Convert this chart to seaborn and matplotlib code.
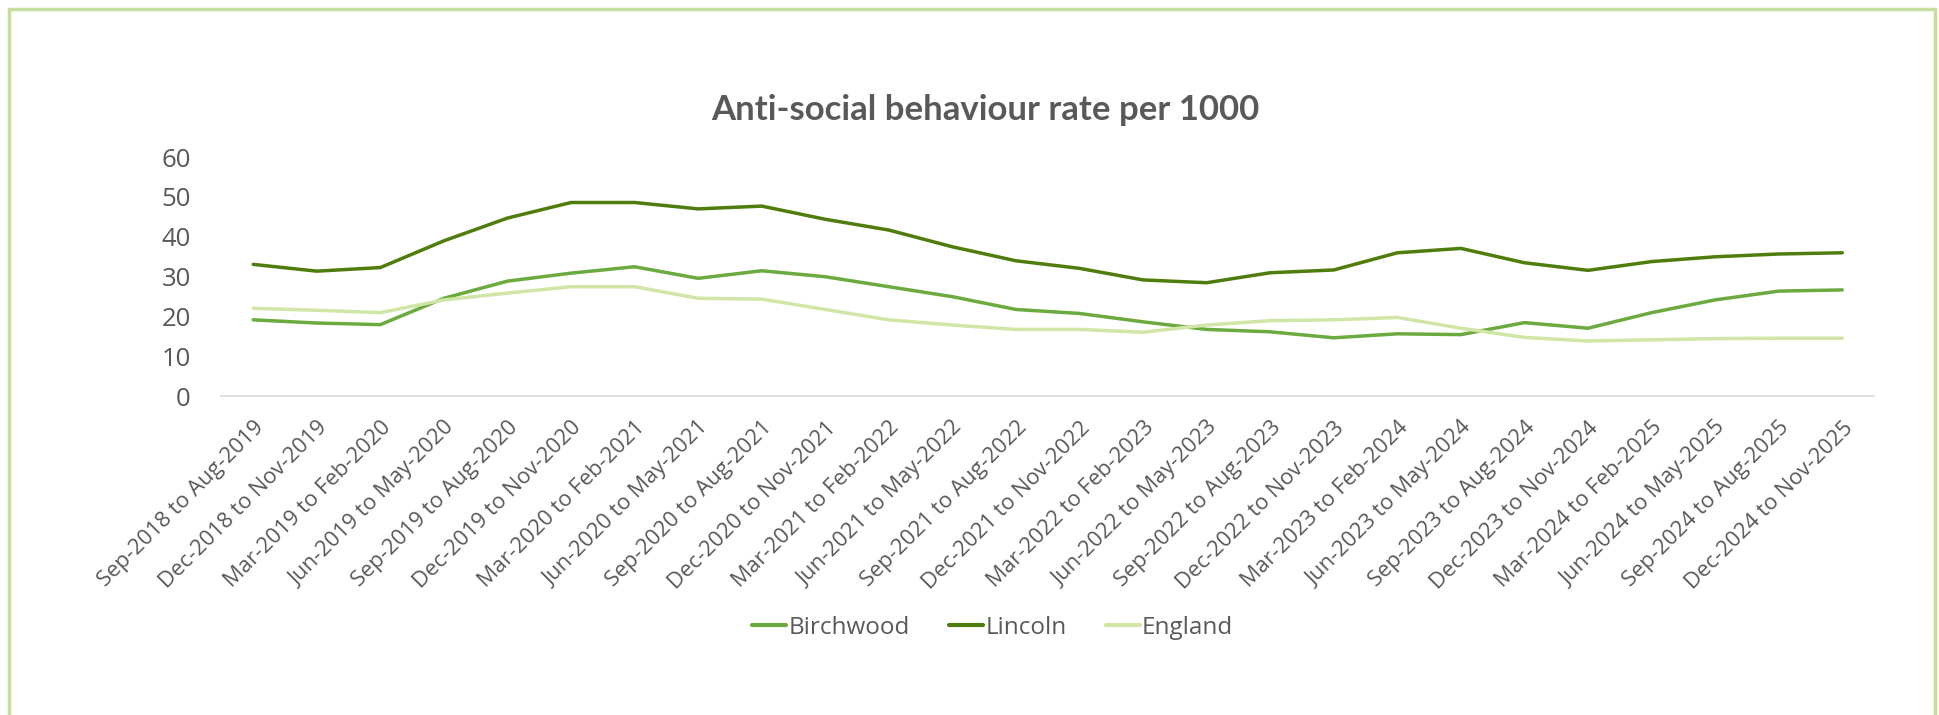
import matplotlib
matplotlib.use("Agg")
import matplotlib.pyplot as plt
from matplotlib.lines import Line2D
import seaborn as sns
import pandas as pd

periods = [
    "Sep-2018 to Aug-2019", "Dec-2018 to Nov-2019", "Mar-2019 to Feb-2020",
    "Jun-2019 to May-2020", "Sep-2019 to Aug-2020", "Dec-2019 to Nov-2020",
    "Mar-2020 to Feb-2021", "Jun-2020 to May-2021", "Sep-2020 to Aug-2021",
    "Dec-2020 to Nov-2021", "Mar-2021 to Feb-2022", "Jun-2021 to May-2022",
    "Sep-2021 to Aug-2022", "Dec-2021 to Nov-2022", "Mar-2022 to Feb-2023",
    "Jun-2022 to May-2023", "Sep-2022 to Aug-2023", "Dec-2022 to Nov-2023",
    "Mar-2023 to Feb-2024", "Jun-2023 to May-2024", "Sep-2023 to Aug-2024",
    "Dec-2023 to Nov-2024", "Mar-2024 to Feb-2025", "Jun-2024 to May-2025",
    "Sep-2024 to Aug-2025", "Dec-2024 to Nov-2025",
]

birchwood = [19.2, 18.4, 18.0, 24.6, 28.9, 30.9, 32.5, 29.6, 31.5, 30.0,
             27.5, 25.0, 21.8, 20.8, 18.7, 16.8, 16.2, 14.7, 15.7, 15.5,
             18.5, 17.1, 21.0, 24.2, 26.4, 26.7]
lincoln = [33.1, 31.4, 32.3, 39.0, 44.7, 48.6, 48.6, 47.0, 47.7, 44.4,
           41.7, 37.5, 34.0, 32.1, 29.2, 28.5, 31.0, 31.7, 36.0, 37.1,
           33.5, 31.6, 33.8, 35.0, 35.7, 36.0]
england = [22.1, 21.6, 21.0, 24.2, 25.9, 27.5, 27.5, 24.6, 24.4, 21.8,
           19.2, 17.9, 16.8, 16.8, 16.1, 17.9, 19.0, 19.2, 19.8, 17.1,
           14.8, 13.9, 14.2, 14.5, 14.6, 14.6]

series_names = ["Birchwood", "Lincoln", "England"]
colors = {"Birchwood": "#6BAA3E", "Lincoln": "#4F7D0C", "England": "#D0E6A6"}

df = pd.DataFrame({
    "period": periods * 3,
    "rate": birchwood + lincoln + england,
    "area": ["Birchwood"] * len(periods) + ["Lincoln"] * len(periods) + ["England"] * len(periods),
})

sns.set_theme(style="white")
plt.rcParams["font.family"] = ["Open Sans", "DejaVu Sans"]
text_gray = "#595959"

fig = plt.figure(figsize=(19.39, 7.15), dpi=100)
ax = fig.add_axes([0.1142, 0.4455, 0.8523, 0.3349])

sns.lineplot(data=df, x="period", y="rate", hue="area", hue_order=series_names,
             palette=colors, linewidth=2.5, sort=False, ax=ax, legend=False)

ax.set_xlim(-0.5, len(periods) - 0.5)
ax.set_ylim(0, 60)
ax.set_yticks(range(0, 61, 10))
ax.set_xlabel("")
ax.set_ylabel("")
for s in ["top", "right", "left"]:
    ax.spines[s].set_visible(False)
ax.spines["bottom"].set_color("#D9D9D9")
ax.spines["bottom"].set_linewidth(1.2)
ax.tick_params(axis="both", length=0)
ax.tick_params(axis="y", labelsize=18.5, labelcolor=text_gray, pad=22)
ax.tick_params(axis="x", labelsize=15.8, labelcolor=text_gray, pad=15)
ax.set_xticks(range(len(periods)))
ax.set_xticklabels(periods, rotation=45, ha="right", rotation_mode="anchor")
ax.grid(False)

fig.text(0.508, 0.846, "Anti-social behaviour rate per 1000", ha="center", va="center",
         fontsize=25, fontweight="bold", color=text_gray, family=["Lato", "DejaVu Sans"])

handles = [Line2D([0], [0], color=colors[n], linewidth=3) for n in series_names]
fig.legend(handles, series_names, loc="center", bbox_to_anchor=(0.512, 0.122), ncol=3,
           frameon=False, fontsize=17.5, handlelength=1.4, handletextpad=0.1,
           columnspacing=1.6, labelcolor=text_gray)

border = "#C6DF9E"
fig.add_artist(Line2D([9 / 1939, 9 / 1939], [0, 1 - 9 / 715], transform=fig.transFigure,
                      color=border, linewidth=2.5))
fig.add_artist(Line2D([9 / 1939, 1935 / 1939], [1 - 9 / 715, 1 - 9 / 715], transform=fig.transFigure,
                      color=border, linewidth=2.5))
fig.add_artist(Line2D([1935 / 1939, 1935 / 1939], [0, 1 - 9 / 715], transform=fig.transFigure,
                      color=border, linewidth=2.5))

fig.savefig("out.png", dpi=100, facecolor="white")
